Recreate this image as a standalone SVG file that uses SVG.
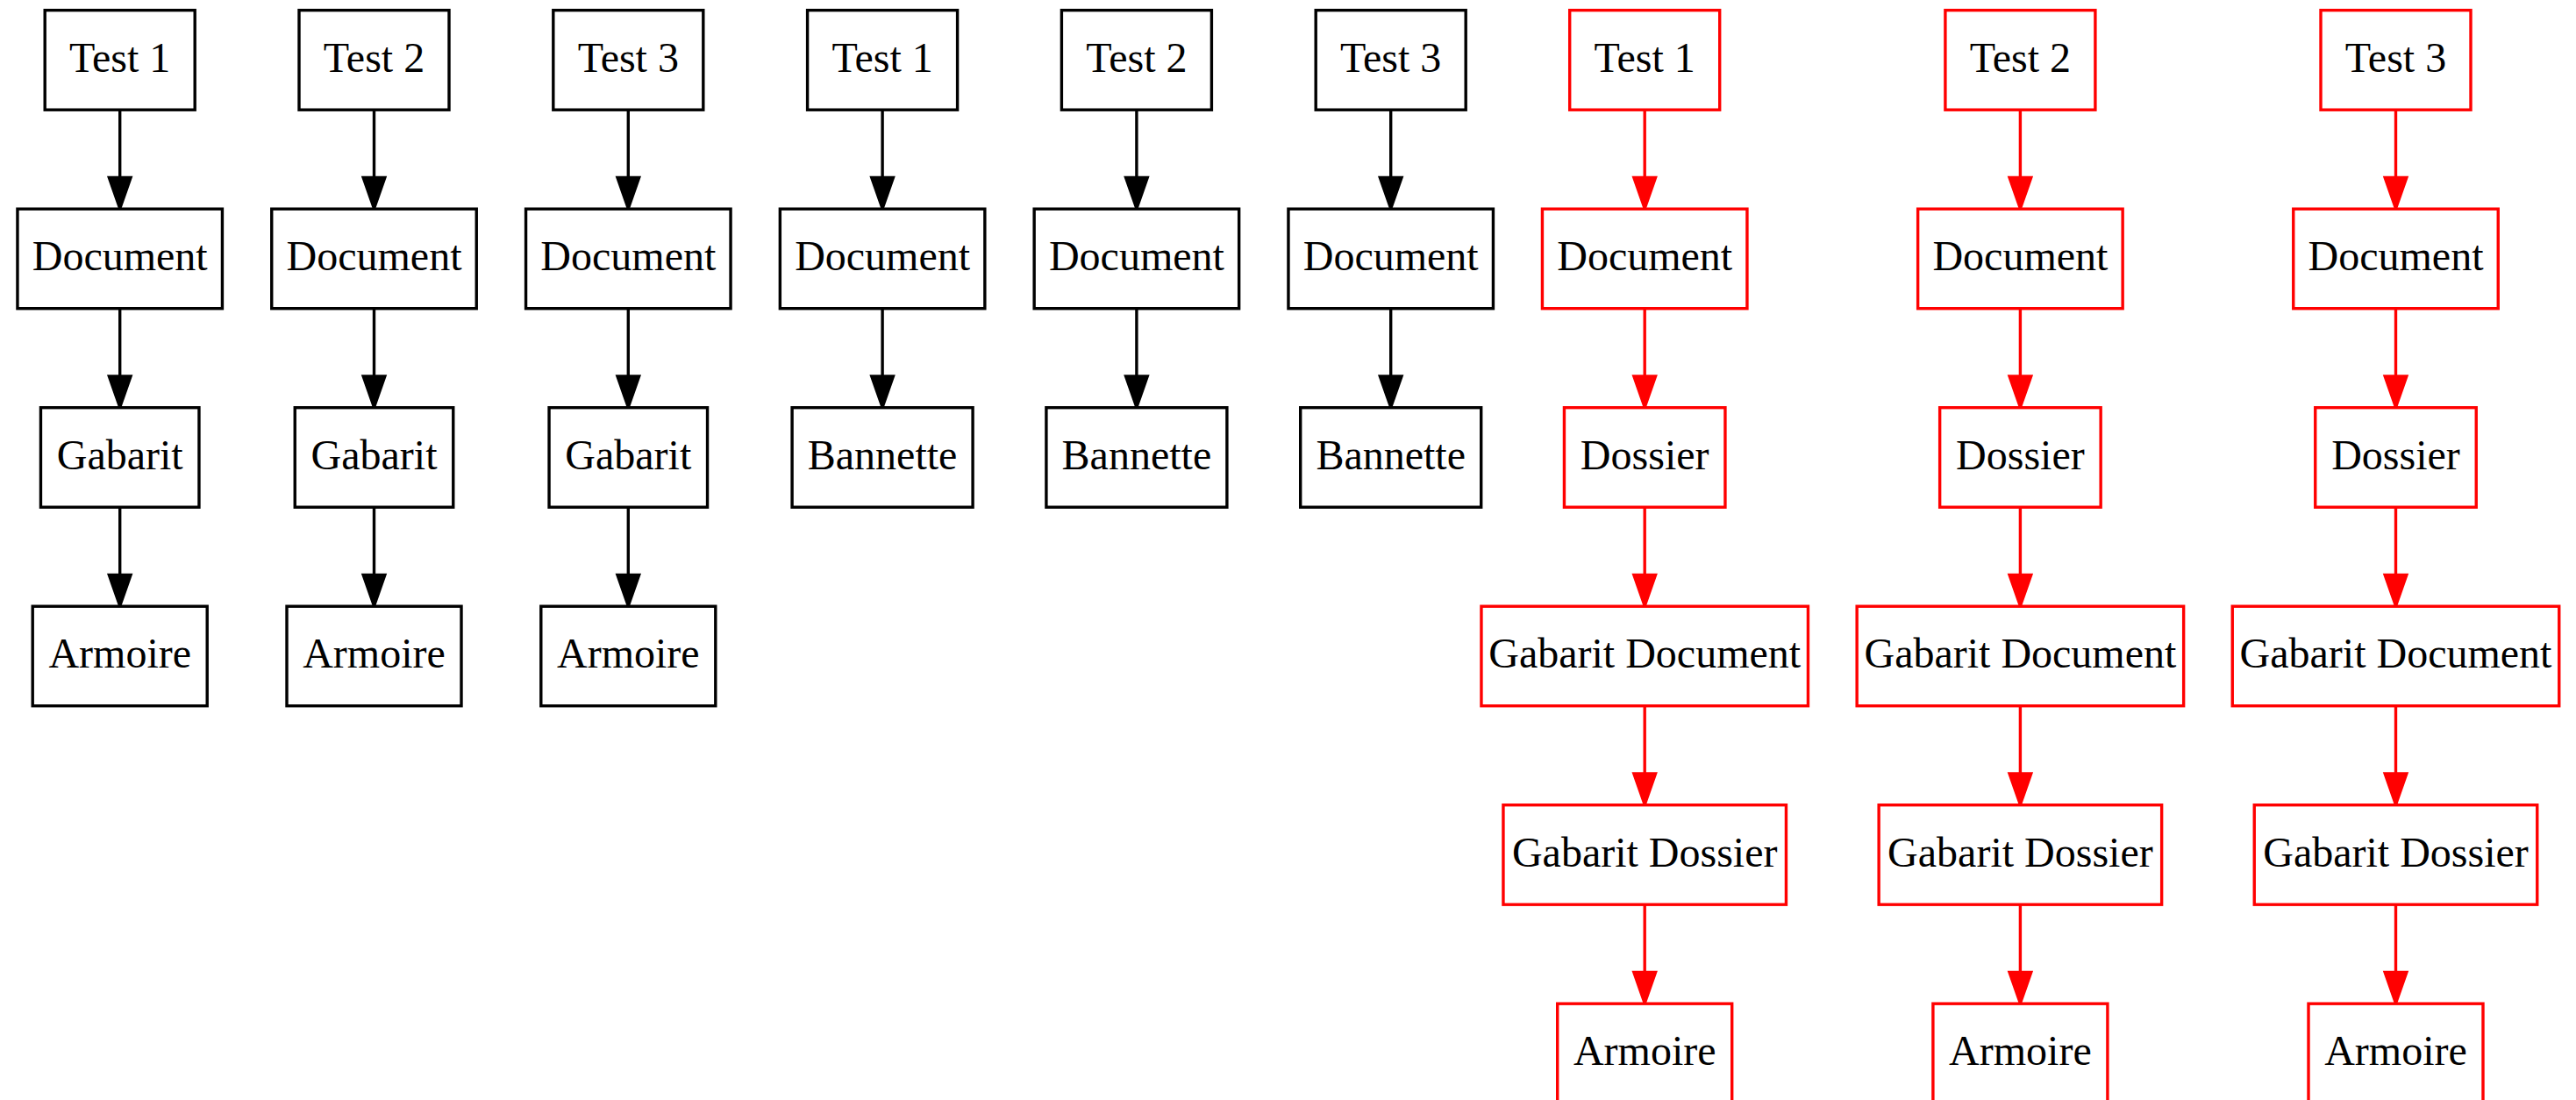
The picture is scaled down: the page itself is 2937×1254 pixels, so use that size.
<svg xmlns="http://www.w3.org/2000/svg" width="2937" height="1254" viewBox="0 0 2937 1254">
<style>
.n rect{fill:#fff;stroke-width:3.4}
.b rect{stroke:#000}
.r rect{stroke:#ff0000}
.n text{font-family:"Liberation Serif","DejaVu Serif",serif;font-size:48px;fill:#000;text-anchor:middle}
.e path{fill:none;stroke-width:3.4}
.eb path{stroke:#000;marker-end:url(#ab)}
.er path{stroke:#ff0000;marker-end:url(#ar)}
</style>
<defs>
<marker id="ab" markerUnits="userSpaceOnUse" markerWidth="40" markerHeight="30" refX="0" refY="12.6" orient="auto" overflow="visible"><path d="M0,0 L36,12.6 L0,25.2 z" fill="#000" stroke="#000" stroke-width="3" stroke-linejoin="miter"/></marker>
<marker id="ar" markerUnits="userSpaceOnUse" markerWidth="40" markerHeight="30" refX="0" refY="12.6" orient="auto" overflow="visible"><path d="M0,0 L36,12.6 L0,25.2 z" fill="#ff0000" stroke="#ff0000" stroke-width="3" stroke-linejoin="miter"/></marker>
</defs>
<rect width="2937" height="1254" fill="#fff"/>
<g id="connectors" class="e">
<g class="eb">
<path d="M136.7,125.2V202.2"/><path d="M136.7,351.7V428.7"/><path d="M136.7,578.2V655.2"/>
<path d="M426.5,125.2V202.2"/><path d="M426.5,351.7V428.7"/><path d="M426.5,578.2V655.2"/>
<path d="M716.3,125.2V202.2"/><path d="M716.3,351.7V428.7"/><path d="M716.3,578.2V655.2"/>
<path d="M1006.1,125.2V202.2"/><path d="M1006.1,351.7V428.7"/>
<path d="M1295.9,125.2V202.2"/><path d="M1295.9,351.7V428.7"/>
<path d="M1585.7,125.2V202.2"/><path d="M1585.7,351.7V428.7"/>
</g>
<g class="er">
<path d="M1875.2,125.2V202.2"/><path d="M1875.2,351.7V428.7"/><path d="M1875.2,578.2V655.2"/><path d="M1875.2,804.7V881.7"/><path d="M1875.2,1031.2V1108.2"/>
<path d="M2303.4,125.2V202.2"/><path d="M2303.4,351.7V428.7"/><path d="M2303.4,578.2V655.2"/><path d="M2303.4,804.7V881.7"/><path d="M2303.4,1031.2V1108.2"/>
<path d="M2731.5,125.2V202.2"/><path d="M2731.5,351.7V428.7"/><path d="M2731.5,578.2V655.2"/><path d="M2731.5,804.7V881.7"/><path d="M2731.5,1031.2V1108.2"/>
</g>
</g>
<!-- column 1 -->
<g id="a_test1" class="n b" transform="translate(136.7,11.7)"><rect x="-85.5" y="0" width="171" height="113.5"/><text x="0" y="70">Test 1</text></g>
<g id="a_doc1" class="n b" transform="translate(136.7,238.2)"><rect x="-116.75" y="0" width="233.5" height="113.5"/><text x="0" y="70">Document</text></g>
<g id="a_gab1" class="n b" transform="translate(136.7,464.7)"><rect x="-90.25" y="0" width="180.5" height="113.5"/><text x="0" y="70">Gabarit</text></g>
<g id="a_arm1" class="n b" transform="translate(136.7,691.2)"><rect x="-99.5" y="0" width="199" height="113.5"/><text x="0" y="70">Armoire</text></g>
<!-- column 2 -->
<g id="a_test2" class="n b" transform="translate(426.5,11.7)"><rect x="-85.5" y="0" width="171" height="113.5"/><text x="0" y="70">Test 2</text></g>
<g id="a_doc2" class="n b" transform="translate(426.5,238.2)"><rect x="-116.75" y="0" width="233.5" height="113.5"/><text x="0" y="70">Document</text></g>
<g id="a_gab2" class="n b" transform="translate(426.5,464.7)"><rect x="-90.25" y="0" width="180.5" height="113.5"/><text x="0" y="70">Gabarit</text></g>
<g id="a_arm2" class="n b" transform="translate(426.5,691.2)"><rect x="-99.5" y="0" width="199" height="113.5"/><text x="0" y="70">Armoire</text></g>
<!-- column 3 -->
<g id="a_test3" class="n b" transform="translate(716.3,11.7)"><rect x="-85.5" y="0" width="171" height="113.5"/><text x="0" y="70">Test 3</text></g>
<g id="a_doc3" class="n b" transform="translate(716.3,238.2)"><rect x="-116.75" y="0" width="233.5" height="113.5"/><text x="0" y="70">Document</text></g>
<g id="a_gab3" class="n b" transform="translate(716.3,464.7)"><rect x="-90.25" y="0" width="180.5" height="113.5"/><text x="0" y="70">Gabarit</text></g>
<g id="a_arm3" class="n b" transform="translate(716.3,691.2)"><rect x="-99.5" y="0" width="199" height="113.5"/><text x="0" y="70">Armoire</text></g>
<!-- column 4 -->
<g id="b_test1" class="n b" transform="translate(1006.1,11.7)"><rect x="-85.5" y="0" width="171" height="113.5"/><text x="0" y="70">Test 1</text></g>
<g id="b_doc1" class="n b" transform="translate(1006.1,238.2)"><rect x="-116.75" y="0" width="233.5" height="113.5"/><text x="0" y="70">Document</text></g>
<g id="b_ban1" class="n b" transform="translate(1006.1,464.7)"><rect x="-103" y="0" width="206" height="113.5"/><text x="0" y="70">Bannette</text></g>
<!-- column 5 -->
<g id="b_test2" class="n b" transform="translate(1295.9,11.7)"><rect x="-85.5" y="0" width="171" height="113.5"/><text x="0" y="70">Test 2</text></g>
<g id="b_doc2" class="n b" transform="translate(1295.9,238.2)"><rect x="-116.75" y="0" width="233.5" height="113.5"/><text x="0" y="70">Document</text></g>
<g id="b_ban2" class="n b" transform="translate(1295.9,464.7)"><rect x="-103" y="0" width="206" height="113.5"/><text x="0" y="70">Bannette</text></g>
<!-- column 6 -->
<g id="b_test3" class="n b" transform="translate(1585.7,11.7)"><rect x="-85.5" y="0" width="171" height="113.5"/><text x="0" y="70">Test 3</text></g>
<g id="b_doc3" class="n b" transform="translate(1585.7,238.2)"><rect x="-116.75" y="0" width="233.5" height="113.5"/><text x="0" y="70">Document</text></g>
<g id="b_ban3" class="n b" transform="translate(1585.7,464.7)"><rect x="-103" y="0" width="206" height="113.5"/><text x="0" y="70">Bannette</text></g>
<!-- column 7 -->
<g id="c_test1" class="n r" transform="translate(1875.2,11.7)"><rect x="-85.5" y="0" width="171" height="113.5"/><text x="0" y="70">Test 1</text></g>
<g id="c_doc1" class="n r" transform="translate(1875.2,238.2)"><rect x="-116.75" y="0" width="233.5" height="113.5"/><text x="0" y="70">Document</text></g>
<g id="c_dos1" class="n r" transform="translate(1875.2,464.7)"><rect x="-91.75" y="0" width="183.5" height="113.5"/><text x="0" y="70">Dossier</text></g>
<g id="c_gdoc1" class="n r" transform="translate(1875.2,691.2)"><rect x="-186.25" y="0" width="372.5" height="113.5"/><text x="0" y="70">Gabarit Document</text></g>
<g id="c_gdos1" class="n r" transform="translate(1875.2,917.7)"><rect x="-161.25" y="0" width="322.5" height="113.5"/><text x="0" y="70">Gabarit Dossier</text></g>
<g id="c_arm1" class="n r" transform="translate(1875.2,1144.2)"><rect x="-99.5" y="0" width="199" height="113.5"/><text x="0" y="70">Armoire</text></g>
<!-- column 8 -->
<g id="c_test2" class="n r" transform="translate(2303.4,11.7)"><rect x="-85.5" y="0" width="171" height="113.5"/><text x="0" y="70">Test 2</text></g>
<g id="c_doc2" class="n r" transform="translate(2303.4,238.2)"><rect x="-116.75" y="0" width="233.5" height="113.5"/><text x="0" y="70">Document</text></g>
<g id="c_dos2" class="n r" transform="translate(2303.4,464.7)"><rect x="-91.75" y="0" width="183.5" height="113.5"/><text x="0" y="70">Dossier</text></g>
<g id="c_gdoc2" class="n r" transform="translate(2303.4,691.2)"><rect x="-186.25" y="0" width="372.5" height="113.5"/><text x="0" y="70">Gabarit Document</text></g>
<g id="c_gdos2" class="n r" transform="translate(2303.4,917.7)"><rect x="-161.25" y="0" width="322.5" height="113.5"/><text x="0" y="70">Gabarit Dossier</text></g>
<g id="c_arm2" class="n r" transform="translate(2303.4,1144.2)"><rect x="-99.5" y="0" width="199" height="113.5"/><text x="0" y="70">Armoire</text></g>
<!-- column 9 -->
<g id="c_test3" class="n r" transform="translate(2731.5,11.7)"><rect x="-85.5" y="0" width="171" height="113.5"/><text x="0" y="70">Test 3</text></g>
<g id="c_doc3" class="n r" transform="translate(2731.5,238.2)"><rect x="-116.75" y="0" width="233.5" height="113.5"/><text x="0" y="70">Document</text></g>
<g id="c_dos3" class="n r" transform="translate(2731.5,464.7)"><rect x="-91.75" y="0" width="183.5" height="113.5"/><text x="0" y="70">Dossier</text></g>
<g id="c_gdoc3" class="n r" transform="translate(2731.5,691.2)"><rect x="-186.25" y="0" width="372.5" height="113.5"/><text x="0" y="70">Gabarit Document</text></g>
<g id="c_gdos3" class="n r" transform="translate(2731.5,917.7)"><rect x="-161.25" y="0" width="322.5" height="113.5"/><text x="0" y="70">Gabarit Dossier</text></g>
<g id="c_arm3" class="n r" transform="translate(2731.5,1144.2)"><rect x="-99.5" y="0" width="199" height="113.5"/><text x="0" y="70">Armoire</text></g>
</svg>
